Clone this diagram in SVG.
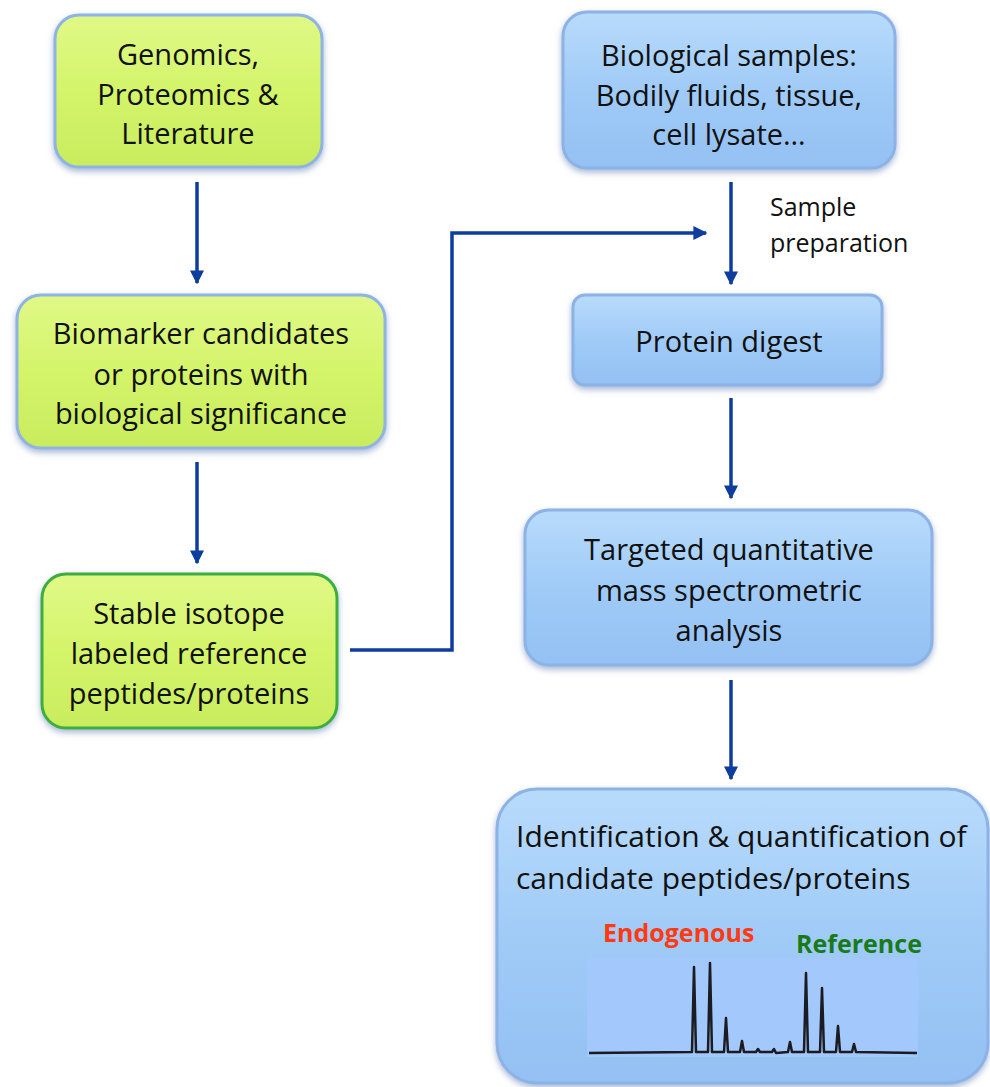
<svg xmlns="http://www.w3.org/2000/svg" width="990" height="1087" viewBox="0 0 990 1087">
<defs>
<linearGradient id="gGreen" x1="0" y1="0" x2="0" y2="1">
<stop offset="0" stop-color="#e0f987"/>
<stop offset="0.5" stop-color="#d4f46a"/>
<stop offset="1" stop-color="#c9ec5e"/>
</linearGradient>
<linearGradient id="gBlue" x1="0" y1="0" x2="0" y2="1">
<stop offset="0" stop-color="#b8dbfb"/>
<stop offset="0.5" stop-color="#a0cbf7"/>
<stop offset="1" stop-color="#94c0f3"/>
</linearGradient>
<filter id="sh" x="-10%" y="-10%" width="120%" height="125%">
<feGaussianBlur in="SourceAlpha" stdDeviation="3"/>
<feOffset dx="0" dy="3" result="b"/>
<feFlood flood-color="#6a86b8" flood-opacity="0.6"/>
<feComposite in2="b" operator="in"/>
<feMerge><feMergeNode/><feMergeNode in="SourceGraphic"/></feMerge>
</filter>
<marker id="ah" viewBox="0 0 10 10" refX="9" refY="5" markerWidth="4" markerHeight="4" orient="auto" markerUnits="strokeWidth">
<path d="M0,0 L10,5 L0,10 z" fill="#0d3d9e"/>
</marker>
</defs>
<style>
.txt{font-family:"Open Sans","Liberation Sans",sans-serif;font-size:29px;fill:#111;text-anchor:middle}
.lbl{font-family:"Open Sans","Liberation Sans",sans-serif;font-size:25px;font-weight:bold}
.g{fill:url(#gGreen);stroke:#8fb3e3;stroke-width:3;filter:url(#sh)}
.b{fill:url(#gBlue);stroke:#8cb2e6;stroke-width:3;filter:url(#sh)}
.con{fill:none;stroke:#0d3d9e;stroke-width:3.5;marker-end:url(#ah)}
</style>
<rect width="990" height="1087" fill="#ffffff"/>
<g id="connectors">
<line class="con" x1="197" y1="182" x2="197" y2="283"/>
<line class="con" x1="197" y1="462" x2="197" y2="563"/>
<polyline class="con" points="350,650 452,650 452,233 706,233"/>
<line class="con" x1="731" y1="182" x2="731" y2="284"/>
<line class="con" x1="731" y1="398" x2="731" y2="498"/>
<line class="con" x1="731" y1="680" x2="731" y2="779"/>
</g>
<g id="genomics">
<rect class="g" x="55" y="15" width="267" height="152" rx="24"/>
<text class="txt" x="188" y="65">Genomics,</text>
<text class="txt" x="188" y="105">Proteomics &amp;</text>
<text class="txt" x="188" y="144">Literature</text>
</g>
<g id="biomarker">
<rect class="g" x="17" y="295" width="368" height="153" rx="24"/>
<text class="txt" x="201" y="344">Biomarker candidates</text>
<text class="txt" x="201" y="385">or proteins with</text>
<text class="txt" x="201" y="424">biological significance</text>
</g>
<g id="stable">
<rect class="g" x="42" y="574" width="295" height="154" rx="24" style="stroke:#3cae3c"/>
<text class="txt" x="189" y="624">Stable isotope</text>
<text class="txt" x="189" y="664">labeled reference</text>
<text class="txt" x="189" y="704">peptides/proteins</text>
</g>
<g id="samples">
<rect class="b" x="563" y="12" width="332" height="156" rx="24"/>
<text class="txt" x="729" y="66">Biological samples:</text>
<text class="txt" x="729" y="106">Bodily fluids, tissue,</text>
<text class="txt" x="729" y="145">cell lysate…</text>
</g>
<g id="samplePrepLabel">
<text x="770" y="216" style="font-family:'Open Sans','Liberation Sans',sans-serif;font-size:25px;fill:#111">Sample</text>
<text x="770" y="252" style="font-family:'Open Sans','Liberation Sans',sans-serif;font-size:25px;fill:#111">preparation</text>
</g>
<g id="digest">
<rect class="b" x="573" y="295" width="309" height="90" rx="12"/>
<text class="txt" x="729" y="352">Protein digest</text>
</g>
<g id="targeted">
<rect class="b" x="525" y="510" width="407" height="155" rx="24"/>
<text class="txt" x="729" y="560">Targeted quantitative</text>
<text class="txt" x="729" y="601">mass spectrometric</text>
<text class="txt" x="729" y="641">analysis</text>
</g>
<g id="identification">
<rect class="b" x="497" y="789" width="491" height="294" rx="40"/>
<text class="txt" x="516" y="847" style="text-anchor:start;font-size:30px">Identification &amp; quantification of</text>
<text class="txt" x="516" y="889" style="text-anchor:start;font-size:30px">candidate peptides/proteins</text>
<rect x="587" y="958" width="331" height="99" fill="#a3c8fb"/>
<text class="lbl" x="603" y="942" fill="#ff3a12">Endogenous</text>
<text class="lbl" x="796" y="953" fill="#1a7a1a">Reference</text>
<path d="M589,1053 L692,1052 L694,967 L696,1052 L708,1052 L710,963 L712,1052 L724,1052 L726,1018 L728,1052 L740,1052 L742,1041 L744,1052 L756,1052 L758,1049 L760,1052 L772,1052 L774,1049 L776,1053 L788,1052 L790,1042 L792,1052 L804,1052 L806,973 L808,1052 L820,1052 L822,988 L824,1052 L836,1052 L838,1026 L840,1052 L852,1052 L854,1044 L856,1052 L917,1053" fill="none" stroke="#1b1b22" stroke-width="2.5" stroke-linejoin="round"/>
</g>
</svg>
